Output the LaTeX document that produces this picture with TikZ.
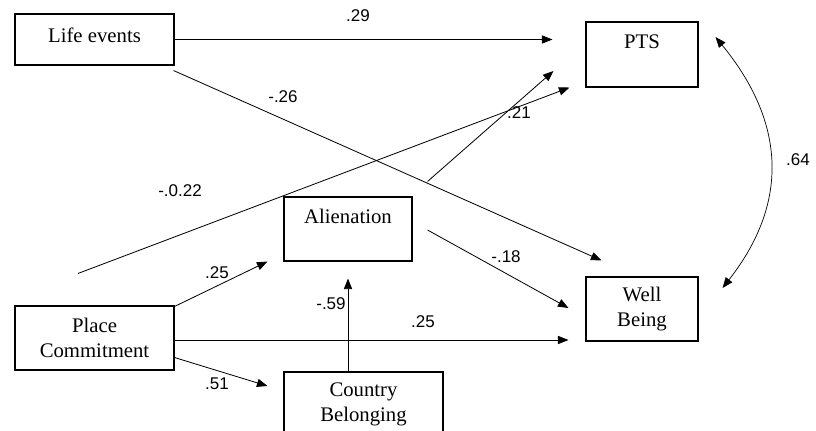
\documentclass[tikz,border=0pt]{standalone}
\usepackage{fontspec}
\setmainfont{Liberation Serif}
\newfontfamily\numfont{Liberation Sans}
\usetikzlibrary{arrows.meta}

\begin{document}
\begin{tikzpicture}[x=0.03cm, y=-0.03cm,
	var/.style={shape=rectangle, draw=black, line width=0.9pt, inner sep=0pt, align=center,
		font=\fontsize{17.7}{21.25}\selectfont},
	num/.style={inner sep=0pt, font=\fontsize{14.5}{17}\numfont},
	arr/.style={-{Triangle[length=9pt,width=7pt]}, line width=0.7pt},
	both/.style={{Triangle[length=9pt,width=7pt]}-{Triangle[length=9pt,width=7pt]}, line width=0.6pt}]
	\useasboundingbox (0,0) rectangle (816,431);

	\node[var, minimum width=4.77cm, minimum height=1.53cm, text depth=8pt] (life) at (94.5, 39.5) {Life events};
	\node[var, minimum width=3.36cm, minimum height=1.95cm] (pts)     at (642, 54.5)  {PTS\\~};
	\node[var, minimum width=3.84cm, minimum height=1.92cm] (alien)   at (348, 229)   {Alienation\\~};
	\node[var, minimum width=3.36cm, minimum height=1.92cm] (wb)      at (642, 309)   {Well\\Being};
	\node[var, minimum width=4.77cm, minimum height=1.92cm] (place)   at (94.5, 338)  {Place\\Commitment};
	\node[var, minimum width=4.77cm, minimum height=1.92cm] (country) at (363.5, 404) {Country\\Belonging};

	\path[arr] (life.east) edge ([shift={(-33,-15)}]pts.west);
	\path[arr] ([shift={(-1,5)}]life.south east) edge ([shift={(16,-16)}]wb.north west);
	\path[arr] ([shift={(-16.5,-32)}]place.north) edge ([shift={(-16,0)}]pts.south west);
	\path[arr] ([shift={(15,-15)}]alien.north east) edge ([shift={(-32,16.5)}]pts.west);
	\path[arr] ([shift={(15,1)}]alien.east) edge ([shift={(-17,-1)}]wb.west);
	\path[arr] ([shift={(0,1)}]place.north east) edge ([shift={(-16,0)}]alien.south west);
	\path[arr] ([shift={(0,2)}]place.east) edge ([shift={(-17,31)}]wb.west);
	\path[arr] ([shift={(0,-13)}]place.south east) edge ([shift={(-16,-18)}]country.west);
	\path[arr] (alien.south |- country.north) edge ([shift={(0,17)}]alien.south);
	\draw[both] ([shift={(17,-17.5)}]pts.east) .. controls +(72,88) and +(65,-83) .. ([shift={(24,-21)}]wb.east);

	\node[num] (w29)  at (358, 16)  {.29};
	\node[num] (w26)  at (283, 97)  {-.26};
	\node[num] (w22)  at (180, 191) {-.0.22};
	\node[num] (w21)  at (519, 113) {.21};
	\node[num] (w18)  at (506, 257) {-.18};
	\node[num] (w25a) at (217, 273) {.25};
	\node[num] (w25b) at (423, 322) {.25};
	\node[num] (w51)  at (217, 384) {.51};
	\node[num] (w59)  at (331, 304) {-.59};
	\node[num] (w64)  at (798, 160) {.64};

\end{tikzpicture}
\end{document}
